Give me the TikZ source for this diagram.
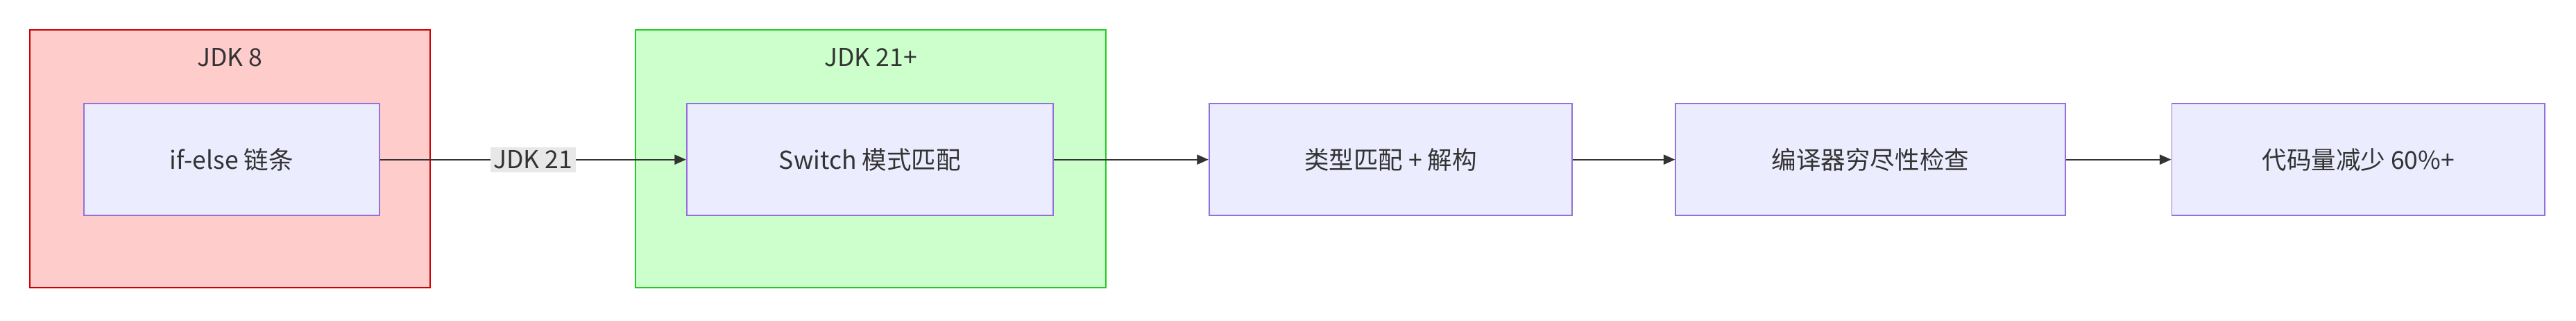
\documentclass[tikz,border=0pt]{standalone}
\usepackage{fontspec}
\setmainfont{Noto Sans CJK SC}
\usetikzlibrary{arrows.meta}
\definecolor{nfill}{HTML}{ECECFF}
\definecolor{nline}{HTML}{9370DB}
\definecolor{rfill}{HTML}{FFCCCC}
\definecolor{gfill}{HTML}{CCFFCC}
\definecolor{gline}{HTML}{22CC22}
\definecolor{elab}{HTML}{E8E8E8}
\begin{document}
\begin{tikzpicture}[x=1pt,y=-1pt,
  box/.style={draw=nline,fill=nfill,line width=0.8pt,inner sep=0},
  cl/.style={line width=0.8pt,inner sep=0},
  txt/.style={font=\fontsize{15}{18}\selectfont,text=black!80},
  ed/.style={draw=black!80,line width=0.8pt,-{Triangle[length=7pt,width=6pt]}}]
\useasboundingbox (0,0) rectangle (1568,195);
\node[cl,draw=red!80!black,fill=rfill,minimum width=244,minimum height=157] (c8) at (140,96.5) {};
\node[txt] (t8) at (140,35) {JDK 8};
\node[cl,draw=gline,fill=gfill,minimum width=286,minimum height=157] (c21) at (530,96.5) {};
\node[txt] (t21) at (530,35) {JDK 21+};
\node[box,minimum width=180,minimum height=68] (a) at (141,97) {};
\node[txt] at (a) {if-else 链条};
\node[box,minimum width=223,minimum height=68] (b) at (529.5,97) {};
\node[txt] at (b) {Switch 模式匹配};
\node[box,minimum width=221,minimum height=68] (c) at (846.5,97) {};
\node[txt] at (c) {类型匹配 + 解构};
\node[box,minimum width=237,minimum height=68] (d) at (1138.5,97) {};
\node[txt] at (d) {编译器穷尽性检查};
\node[box,minimum width=227,minimum height=68] (e) at (1435.5,97) {};
\node[txt] at (e) {代码量减少 60\%+};
\draw[ed] (a) -- node[txt,fill=elab,inner sep=2pt] {JDK 21} (b);
\draw[ed] (b) -- (c);
\draw[ed] (c) -- (d);
\draw[ed] (d) -- (e);
\end{tikzpicture}
\end{document}
